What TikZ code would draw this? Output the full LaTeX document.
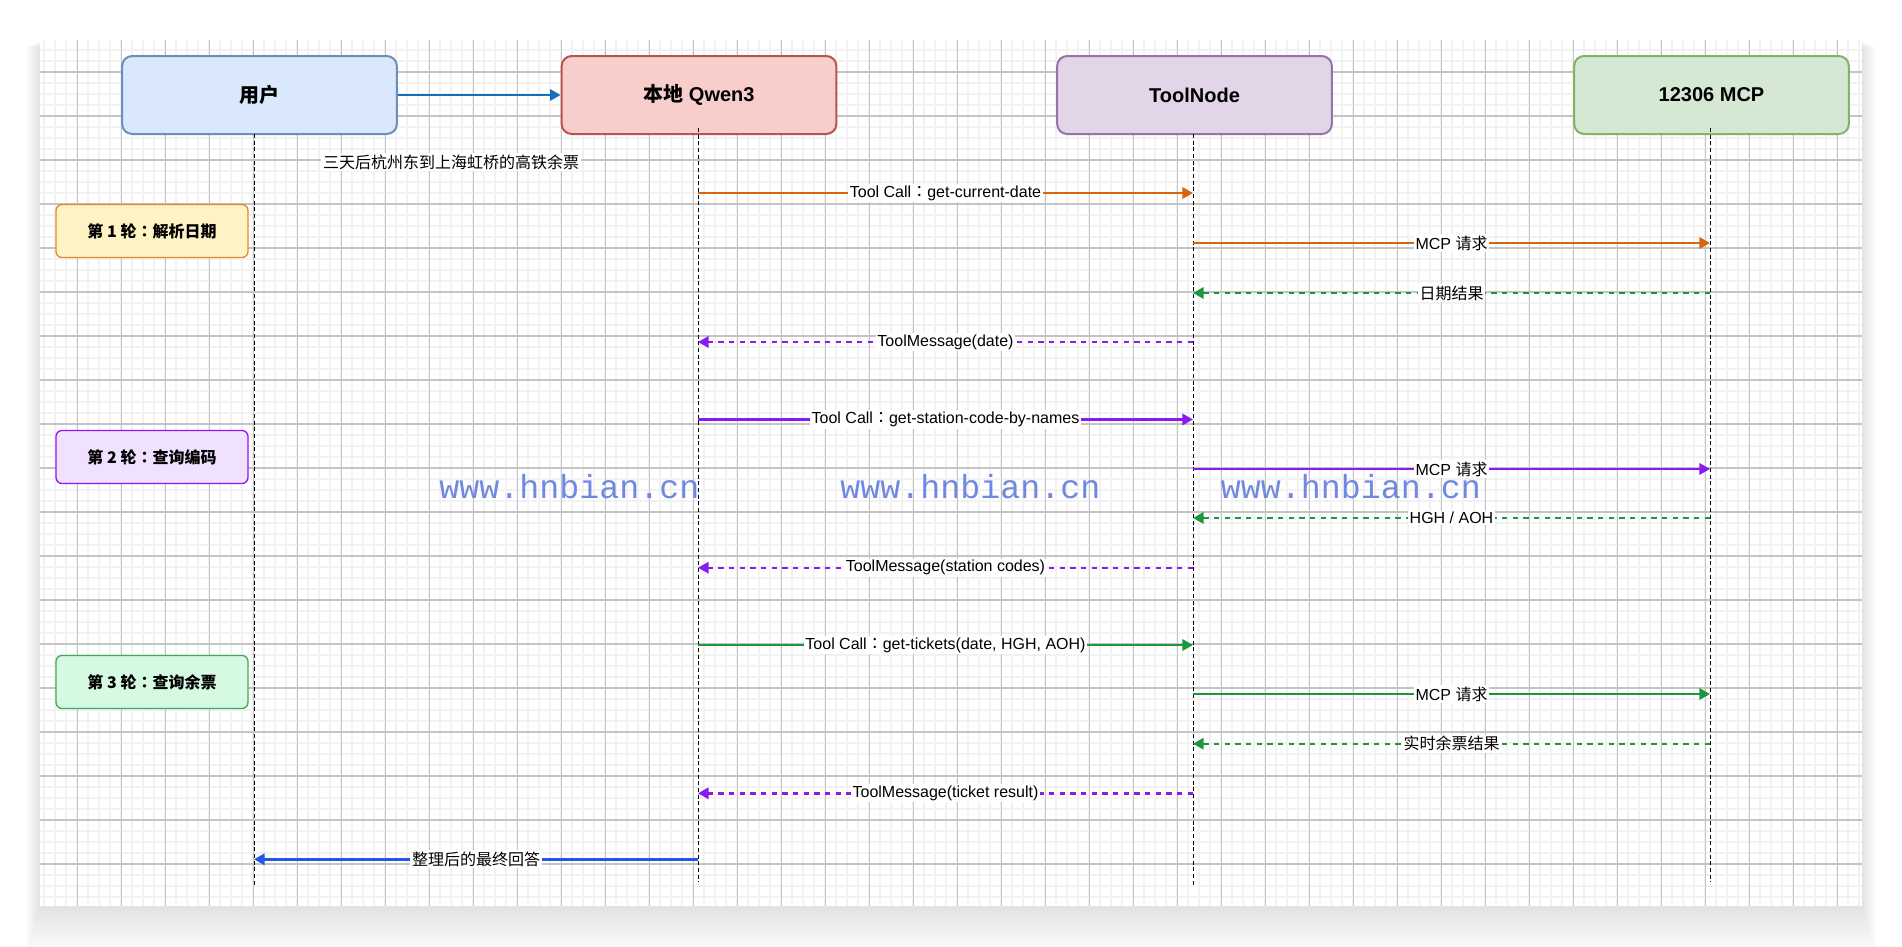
\documentclass[tikz,border=0pt]{standalone}
\usepackage{fontspec}
\setmainfont{Liberation Sans}
\newfontfamily\zh{Noto Sans CJK SC}
\newfontfamily\zhc{Noto Sans CJK TC}
\newfontfamily\wmfont{Liberation Mono}
\usetikzlibrary{arrows.meta, positioning}
\newcommand{\fcolon}{{\zhc ：}}

\definecolor{userfill}{HTML}{DAE8FC}\definecolor{userline}{HTML}{6C8EBF}
\definecolor{qwenfill}{HTML}{F8CECC}\definecolor{qwenline}{HTML}{B85450}
\definecolor{toolfill}{HTML}{E1D5E7}\definecolor{toolline}{HTML}{9673A6}
\definecolor{mcpfill}{HTML}{D5E8D4}\definecolor{mcpline}{HTML}{82B366}
\definecolor{r1fill}{HTML}{FFF2C4}\definecolor{r1line}{HTML}{E08A2E}
\definecolor{r2fill}{HTML}{F0E1FF}\definecolor{r2line}{HTML}{9013FE}
\definecolor{r3fill}{HTML}{D6FAE1}\definecolor{r3line}{HTML}{3DAA5C}
\definecolor{callorange}{HTML}{D6650F}
\definecolor{callpurple}{HTML}{8B1AF0}
\definecolor{callgreen}{HTML}{1E973C}
\definecolor{askblue}{HTML}{166FBE}
\definecolor{answerblue}{HTML}{2656E6}
\definecolor{gridminor}{HTML}{F2F2F2}
\definecolor{gridmajor}{HTML}{C4C4C4}
\definecolor{wmblue}{HTML}{7088E0}

\begin{document}
\begin{tikzpicture}[x=0.75pt, y=-0.75pt,
    head/.style={draw, line width=1.5pt, rounded corners=7.5pt, minimum width=206pt, minimum height=58.5pt, font=\bfseries\fontsize{15}{18}\selectfont},
    round/.style={draw, line width=1pt, rounded corners=4.5pt, minimum width=144pt, minimum height=39.75pt, font=\zh\bfseries\fontsize{12}{14}\selectfont},
    life/.style={line width=0.75pt, dash pattern=on 3pt off 2pt},
    msg/.style={-{Triangle[length=8pt, width=8.5pt]}, line width=1.8pt},
    reply/.style={msg, dash pattern=on 4pt off 4pt},
    lbl/.style={fill=white, text=black, inner sep=1.2pt, font=\fontsize{12}{14}\selectfont}]
    \useasboundingbox (0,0) rectangle (1902,946);
    % canvas with soft shadow
    \foreach \s in {1,...,14}
        \fill[black, opacity=0.006] (40-\s*1,40+\s*0.5) rectangle (1862+\s*1,906+\s*3.5);
    \fill[white] (40,40) rectangle (1862,906);
    \foreach \x in {44.2,55.2,...,1862} \draw[gridminor, line width=1.4pt] (\x,40) -- (\x,906);
    \foreach \y in {50,61,...,906} \draw[gridminor, line width=1.4pt] (40,\y) -- (1862,\y);
    \foreach \x in {77.2,121.2,...,1862} \draw[gridmajor, line width=0.8pt] (\x,40) -- (\x,906);
    \foreach \y in {72,116,...,906} \draw[gridmajor, line width=0.8pt] (40,\y) -- (1862,\y);

    % participants
    \node[head, fill=userfill, draw=userline] (user) at (259.5,95) {\zh 用户};
    \node[head, fill=qwenfill, draw=qwenline] (qwen) at (699,95) {{\zh 本地} Qwen3};
    \node[head, fill=toolfill, draw=toolline] (tool) at (1194.5,95) {ToolNode};
    \node[head, fill=mcpfill, draw=mcpline] (mcp) at (1711.5,95) {12306 MCP};

    % lifelines
    \coordinate (uTop) at (254,134);  \coordinate (uEnd) at (254,887);
    \coordinate (qTop) at (698,128);  \coordinate (qEnd) at (698,882);
    \coordinate (tTop) at (1193,134); \coordinate (tEnd) at (1193,887);
    \coordinate (mTop) at (1710,128); \coordinate (mEnd) at (1710,882);
    \draw[life] (uTop) -- (uEnd);
    \draw[life] (qTop) -- (qEnd);
    \draw[life] (tTop) -- (tEnd);
    \draw[life] (mTop) -- (mEnd);

    % rounds
    \node[round, fill=r1fill, draw=r1line] (round1) at (152,231) {第 1 轮\fcolon 解析日期};
    \node[round, fill=r2fill, draw=r2line] (round2) at (152,457) {第 2 轮\fcolon 查询编码};
    \node[round, fill=r3fill, draw=r3line] (round3) at (152,682) {第 3 轮\fcolon 查询余票};

    % question
    \draw[msg, askblue] (user) -- (qwen);
    \node[lbl, font=\zh\fontsize{12}{14}\selectfont] (ask) at (451,162) {三天后杭州东到上海虹桥的高铁余票};

    % message rows
    \foreach \n/\y in {1/193,2/243,3/293,4/342,5/419.5,6/469,7/518,8/567.7,9/645,10/694,11/743.7,12/793.3,13/859.3}
        \coordinate (r\n) at (0,\y);

    % round 1
    \draw[msg, callorange] (qTop |- r1) -- node[lbl]{Tool Call\fcolon get-current-date} (tTop |- r1);
    \draw[msg, callorange] (tTop |- r2) -- node[lbl]{MCP {\zh 请求}} (mTop |- r2);
    \draw[reply, callgreen] (mTop |- r3) -- node[lbl]{\zh 日期结果} (tTop |- r3);
    \draw[reply, callpurple] (tTop |- r4) -- node[lbl]{ToolMessage(date)} (qTop |- r4);
    % round 2
    \draw[msg, callpurple] (qTop |- r5) -- node[lbl]{Tool Call\fcolon get-station-code-by-names} (tTop |- r5);
    \draw[msg, callpurple] (tTop |- r6) -- node[lbl]{MCP {\zh 请求}} (mTop |- r6);
    \draw[reply, callgreen] (mTop |- r7) -- node[lbl]{HGH / AOH} (tTop |- r7);
    \draw[reply, callpurple] (tTop |- r8) -- node[lbl]{ToolMessage(station codes)} (qTop |- r8);
    % round 3
    \draw[msg, callgreen] (qTop |- r9) -- node[lbl]{Tool Call\fcolon get-tickets(date, HGH, AOH)} (tTop |- r9);
    \draw[msg, callgreen] (tTop |- r10) -- node[lbl]{MCP {\zh 请求}} (mTop |- r10);
    \draw[reply, callgreen] (mTop |- r11) -- node[lbl]{\zh 实时余票结果} (tTop |- r11);
    \draw[reply, callpurple] (tTop |- r12) -- node[lbl]{ToolMessage(ticket result)} (qTop |- r12);
    % answer
    \draw[msg, answerblue] (qTop |- r13) -- node[lbl]{\zh 整理后的最终回答} (uTop |- r13);

    % watermark
    \foreach \x/\n in {569.5/1,970.5/2,1351/3}
        \node[anchor=base, text=wmblue, inner sep=0pt, font=\wmfont\fontsize{25}{28}\selectfont] (wm\n) at (\x,498) {www.hnbian.cn};
\end{tikzpicture}
\end{document}
